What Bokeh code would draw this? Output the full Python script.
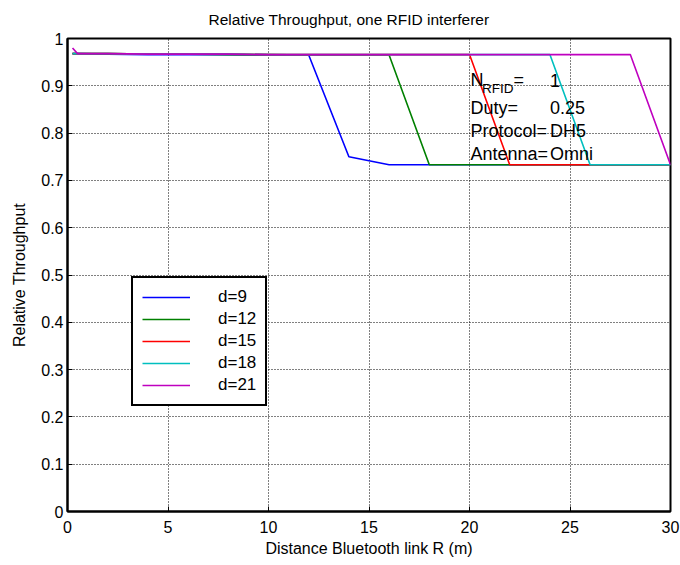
from bokeh.plotting import figure
from bokeh.embed import file_html
from bokeh.resources import INLINE
from bokeh.models import (Label, Legend, LegendItem, FixedTicker,
                          CustomJSTickFormatter, Title)

# Distance of the Bluetooth link (m)
distance = [0.25, 0.5, 2, 4, 6, 8, 10, 12, 14, 16, 18, 20, 22, 24, 26, 28, 30]

# Relative throughput for each RFID interferer distance d
thr_d9 = [0.968, 0.968, 0.967, 0.966, 0.966, 0.966, 0.965, 0.965, 0.750, 0.733,
          0.733, 0.733, 0.733, 0.733, 0.733, 0.733, 0.733]
thr_d12 = [0.968, 0.968, 0.968, 0.967, 0.967, 0.966, 0.966, 0.965, 0.965, 0.965,
           0.733, 0.733, 0.733, 0.733, 0.733, 0.733, 0.733]
thr_d15 = [0.968, 0.968, 0.968, 0.967, 0.967, 0.967, 0.966, 0.966, 0.966, 0.966,
           0.966, 0.966, 0.733, 0.733, 0.733, 0.733, 0.733]
thr_d18 = [0.968, 0.968, 0.968, 0.967, 0.967, 0.967, 0.966, 0.966, 0.966, 0.966,
           0.966, 0.966, 0.966, 0.966, 0.733, 0.733, 0.733]
thr_d21 = [0.980, 0.968, 0.968, 0.967, 0.967, 0.967, 0.966, 0.966, 0.966, 0.966,
           0.966, 0.966, 0.966, 0.966, 0.966, 0.966, 0.733]

series_labels = ["d=9", "d=12", "d=15", "d=18", "d=21"]
series_values = [thr_d9, thr_d12, thr_d15, thr_d18, thr_d21]
series_colors = ["#0000ff", "#008000", "#ff0000", "#00bfbf", "#bf00bf"]

x_ticks = [0, 5, 10, 15, 20, 25, 30]
y_ticks = [0, 0.1, 0.2, 0.3, 0.4, 0.5, 0.6, 0.7, 0.8, 0.9, 1]

# Scenario parameters printed inside the axes
param_names = ["Duty=", "Protocol=", "Antenna="]
param_values = ["0.25", "DH5", "Omni"]
n_rfid = "1"

FONT = "Liberation Sans"

p = figure(width=680, height=565, output_backend="svg", toolbar_location=None,
           x_range=(0, 30), y_range=(0, 1),
           min_border_left=67, min_border_right=10,
           min_border_top=38, min_border_bottom=54)
p.title = Title(text="Relative Throughput, one RFID interferer", align="left",
                vertical_align="top", offset=141, standoff=18,
                text_font=FONT, text_font_size="15.5px",
                text_font_style="normal", text_color="black")
p.background_fill_color = "white"
p.border_fill_color = "white"
p.outline_line_color = "black"
p.outline_line_alpha = 1.0
p.outline_line_width = 2

renderers = []
for vals, col in zip(series_values, series_colors):
    r = p.line(distance, vals, line_color=col, line_width=1.6)
    renderers.append(r)

# Axes
for ax in (p.xaxis[0], p.yaxis[0]):
    ax.axis_line_width = 2
    ax.axis_line_color = "black"
    ax.major_tick_in = 5
    ax.major_tick_out = 0
    ax.minor_tick_in = 0
    ax.minor_tick_out = 0
    ax.major_tick_line_color = "black"
    ax.major_label_text_font = FONT
    ax.major_label_text_font_size = "16px"
    ax.major_label_text_color = "black"
    ax.axis_label_text_font = FONT
    ax.axis_label_text_font_size = "16px"
    ax.axis_label_text_font_style = "normal"
    ax.axis_label_text_color = "black"

p.xaxis.ticker = FixedTicker(ticks=x_ticks)
p.yaxis.ticker = FixedTicker(ticks=y_ticks)
p.yaxis.formatter = CustomJSTickFormatter(code="return tick.toString();")
p.xaxis.formatter = CustomJSTickFormatter(code="return tick.toString();")
p.xaxis.axis_label = "Distance Bluetooth link R (m)"
p.yaxis.axis_label = "Relative Throughput"
p.xaxis.major_label_standoff = 9
p.yaxis.major_label_standoff = 4
p.xaxis.axis_label_standoff = 4
p.yaxis.axis_label_standoff = 10

# Dotted grid
p.xgrid.ticker = FixedTicker(ticks=x_ticks)
p.ygrid.ticker = FixedTicker(ticks=y_ticks)
for g in (p.xgrid[0], p.ygrid[0]):
    g.grid_line_color = "black"
    g.grid_line_dash = "1 2"
    g.grid_line_width = 1
    g.grid_line_alpha = 1.0

# Legend
items = [LegendItem(label=lab, renderers=[r]) for lab, r in zip(series_labels, renderers)]
legend = Legend(items=items, location=(64, 105),
                border_line_color="black", border_line_width=2, border_line_alpha=1.0,
                background_fill_color="white", background_fill_alpha=1,
                label_text_font=FONT, label_text_font_size="17px",
                label_text_color="black",
                glyph_width=48, glyph_height=20, label_height=20,
                label_standoff=28, spacing=2, padding=9, margin=0)
p.add_layout(legend)

# Parameter text block
ann_size = "18px"
lift = 7
p.add_layout(Label(x=20.05, y=0.897, y_offset=lift, text="N", text_font=FONT,
                   text_font_size=ann_size, text_color="black", text_baseline="alphabetic"))
p.add_layout(Label(x=20.05, y=0.897, x_offset=11.5, y_offset=lift - 8, text="RFID",
                   text_font=FONT, text_font_size="13.5px", text_color="black",
                   text_baseline="alphabetic"))
p.add_layout(Label(x=20.05, y=0.897, x_offset=43, y_offset=lift, text="=", text_font=FONT,
                   text_font_size=ann_size, text_color="black", text_baseline="alphabetic"))
p.add_layout(Label(x=24.0, y=0.897, y_offset=lift, text=n_rfid, text_font=FONT,
                   text_font_size=ann_size, text_color="black", text_baseline="alphabetic"))
for i, (name, val) in enumerate(zip(param_names, param_values)):
    yy = [0.839, 0.789, 0.7406][i]
    p.add_layout(Label(x=20.05, y=yy, y_offset=lift, text=name, text_font=FONT,
                       text_font_size=ann_size, text_color="black",
                       text_baseline="alphabetic"))
    p.add_layout(Label(x=24.0, y=yy, y_offset=lift, text=val, text_font=FONT,
                       text_font_size=ann_size, text_color="black",
                       text_baseline="alphabetic"))

open("out.html", "w").write(file_html(p, INLINE))
